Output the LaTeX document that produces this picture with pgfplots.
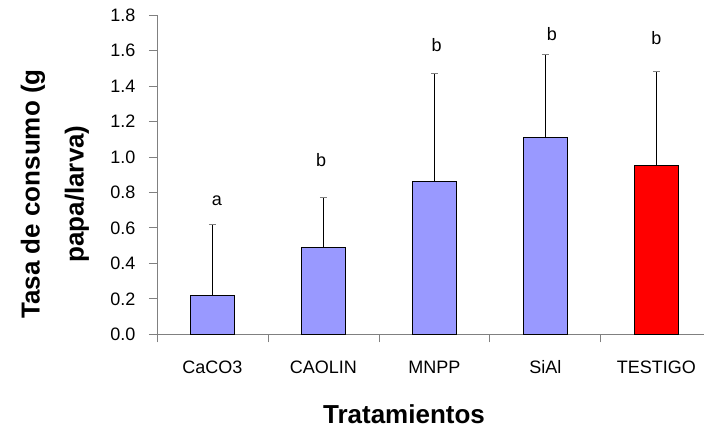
\documentclass[border=0pt]{standalone}
\usepackage{fontspec}
\setmainfont{Liberation Sans}
\usepackage{pgfplots}
\pgfplotsset{compat=1.18}
\definecolor{barblue}{HTML}{9999FF}
\definecolor{axgray}{HTML}{808080}
\begin{document}
\begin{tikzpicture}
\begin{axis}[
  scale only axis, width=547pt, height=319.3pt,
  xmin=-0.5, xmax=4.43, ymin=0, ymax=1.8,
  axis x line*=bottom, axis y line*=left,
  axis line style={axgray, line width=0.8pt},
  ytick={0,0.2,0.4,0.6,0.8,1.0,1.2,1.4,1.6,1.8},
  xtick={0,1,2,3,4}, xticklabels={CaCO3,CAOLIN,MNPP,SiAl,TESTIGO},
  major x tick style={draw=none},
  minor xtick={-0.5,0.5,1.5,2.5,3.5},
  tick align=outside, major tick length=8pt, minor tick length=8pt,
  every tick/.style={axgray, line width=0.8pt},
  /pgf/number format/assume math mode=true,
  y tick label style={/pgf/number format/.cd, fixed, fixed zerofill, precision=1, /tikz/.cd, font=\fontsize{18}{18}\selectfont, xshift=-10pt},
  x tick label style={font=\fontsize{18}{18}\selectfont, anchor=base, yshift=-31pt},
  clip=false,
]
\addplot[ybar, bar width=44.5pt, bar shift=0pt, fill=barblue, draw=black, line width=0.6pt,
  error bars/.cd, y dir=plus, y explicit,
  error bar style={black, line width=0.8pt},
  error mark options={rotate=90, mark size=3.5pt, axgray, line width=0.8pt}]
  table[x=x, y=y, y error=e] {
x y e
0 0.22 0.40
1 0.49 0.28
2 0.86 0.61
3 1.11 0.47
};
\addplot[ybar, bar width=44.5pt, bar shift=0pt, fill=red, draw=black, line width=0.6pt,
  error bars/.cd, y dir=plus, y explicit,
  error bar style={black, line width=0.8pt},
  error mark options={rotate=90, mark size=3.5pt, axgray, line width=0.8pt}]
  table[x=x, y=y, y error=e] {
x y e
4 0.95 0.53
};
\node[anchor=base, font=\fontsize{18}{18}\selectfont] at (axis cs:0.04,0.725) {a};
\node[anchor=base, font=\fontsize{18}{18}\selectfont] at (axis cs:0.98,0.945) {b};
\node[anchor=base, font=\fontsize{18}{18}\selectfont] at (axis cs:2.02,1.593) {b};
\node[anchor=base, font=\fontsize{18}{18}\selectfont] at (axis cs:3.06,1.655) {b};
\node[anchor=base, font=\fontsize{18}{18}\selectfont] at (axis cs:4.0,1.636) {b};
\coordinate (O) at (rel axis cs:0,0);
\end{axis}
\node[rotate=90, align=center, font=\bfseries\fontsize{26}{44}\selectfont] at ([shift={(-102pt,140.3pt)}]O) {Tasa de consumo (g\\papa/larva)};
\node[anchor=base, font=\bfseries\fontsize{26}{26}\selectfont] at ([shift={(247pt,-88.7pt)}]O) {Tratamientos};
\pgfresetboundingbox
\path ([shift={(-157pt,-96.7pt)}]O) rectangle ([shift={(547pt,334.3pt)}]O);
\end{tikzpicture}
\end{document}
